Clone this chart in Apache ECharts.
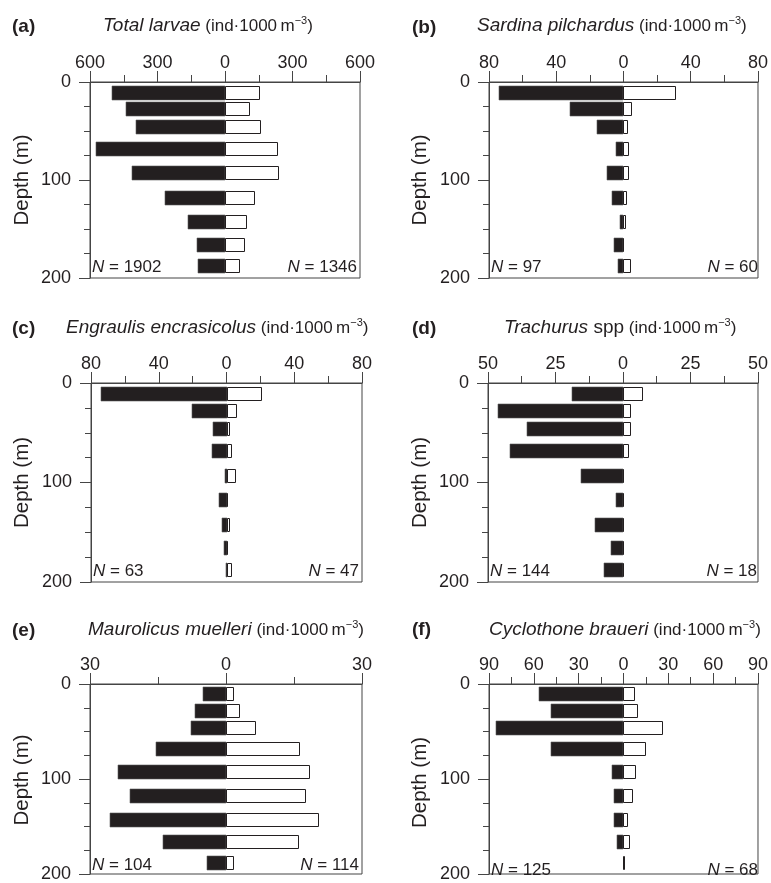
<!DOCTYPE html>
<html><head><meta charset="utf-8">
<script src="https://cdn.jsdelivr.net/npm/echarts@6/dist/echarts.min.js"></script>
<style>html,body{margin:0;padding:0;background:#fff}#c{width:771px;height:883px}</style>
</head><body><div id="c"></div>
<script>
// ---- data ----
const depths = [11, 28, 46, 68, 93, 118, 143, 166, 188];
const totalBlack = [501, 439, 396, 573, 414, 266, 165, 126, 122];
const totalWhite = [150, 106, 155, 229, 235, 129, 94, 86, 61];
const sardinaBlack = [74.1, 32, 15.7, 4.5, 9.6, 7.1, 1.8, 5.7, 3.3];
const sardinaWhite = [30.6, 4.5, 2.2, 2.9, 2.9, 1.2, 0.8, 0, 3.9];
const engraulisBlack = [74.1, 20.4, 7.9, 8.3, 1.0, 4.3, 2.4, 1.6, 0.3];
const engraulisWhite = [20.2, 5.9, 1.4, 2.8, 5.1, 0.3, 1.2, 0.3, 2.4];
const trachurusBlack = [19.0, 46.4, 35.6, 41.8, 15.7, 2.6, 10.3, 4.3, 6.9];
const trachurusWhite = [6.9, 2.7, 2.7, 1.7, 0, 0, 0, 0, 0];
const maurolicusBlack = [5.0, 6.8, 7.8, 15.4, 23.9, 21.2, 25.6, 13.8, 4.3];
const maurolicusWhite = [1.5, 2.8, 6.4, 16.1, 18.2, 17.4, 20.2, 15.9, 1.5];
const cyclothoneBlack = [56.8, 48.6, 85.2, 48.6, 7.9, 6.2, 6.2, 4.4, 0];
const cyclothoneWhite = [7.3, 9.2, 26.0, 14.1, 7.9, 5.9, 2.4, 3.5, 0.3];

const panelLetters = ['(a)', '(b)', '(c)', '(d)', '(e)', '(f)'];
const speciesNames = ['Total larvae', 'Sardina pilchardus', 'Engraulis encrasicolus', 'Trachurus', 'Maurolicus muelleri', 'Cyclothone braueri'];
const speciesSuffix = ['', '', '', ' spp', '', ''];
const axisMax = [600, 80, 80, 50, 30, 90];
const axisStep = [300, 40, 40, 25, 30, 30];
const depthMax = 200;
const depthStep = 100;
const nBlack = [1902, 97, 63, 144, 104, 125];
const nWhite = [1346, 60, 47, 18, 114, 68];

const blackSets = [totalBlack, sardinaBlack, engraulisBlack, trachurusBlack, maurolicusBlack, cyclothoneBlack];
const whiteSets = [totalWhite, sardinaWhite, engraulisWhite, trachurusWhite, maurolicusWhite, cyclothoneWhite];

// ---- layout ----
const grids = [
  {l: 90, t: 82, w: 270, h: 196},
  {l: 489, t: 82, w: 272, h: 196},
  {l: 91, t: 383, w: 271, h: 199},
  {l: 488, t: 383, w: 272, h: 199},
  {l: 90, t: 684, w: 272, h: 192},
  {l: 489, t: 684, w: 272, h: 197}
];
const titleX = [103, 477, 66, 504, 88, 489];
const titleY = [25, 25, 327, 327, 629, 629];
const letterX = [12, 412, 12, 412, 12, 412];
const letterY = [27, 28, 329, 329, 631, 630];
const depthLabelX = [22, 420, 22, 420, 22, 420];

const INK = '#231f20';
const LINE = '#454545';
const FONT = '"Liberation Sans", Arial, Helvetica, sans-serif';

const chart = echarts.init(document.getElementById('c'), null, {renderer: 'canvas'});

const option = {
  backgroundColor: '#fff',
  animation: false,
  grid: [], xAxis: [], yAxis: [], series: [], graphic: []
};

for (let i = 0; i < 6; i++) {
  const g = grids[i];
  option.grid.push({
    left: g.l, top: g.t, width: g.w, height: g.h,
    show: true, borderColor: LINE, borderWidth: 1, backgroundColor: 'transparent'
  });
  option.xAxis.push({
    gridIndex: i, type: 'value', position: 'top',
    min: -axisMax[i], max: axisMax[i], interval: axisStep[i],
    axisLine: {show: true, onZero: false, lineStyle: {color: LINE, width: 1}},
    axisTick: {show: true, length: 11, lineStyle: {color: LINE}},
    minorTick: {show: true, splitNumber: 2, length: 7, lineStyle: {color: LINE}},
    splitLine: {show: false},
    axisLabel: {
      margin: 10, color: INK, fontSize: 18, fontFamily: FONT,
      formatter: v => String(Math.abs(v))
    }
  });
  option.yAxis.push({
    gridIndex: i, type: 'value', inverse: true,
    min: 0, max: depthMax, interval: depthStep,
    axisLine: {show: true, onZero: false, lineStyle: {color: LINE, width: 1}},
    axisTick: {show: true, length: 11, lineStyle: {color: LINE}},
    minorTick: {show: true, splitNumber: 4, length: 6, lineStyle: {color: LINE}},
    splitLine: {show: false},
    axisLabel: {margin: 19, color: INK, fontSize: 18, fontFamily: FONT}
  });
  const rows = depths.map((d, k) => [d, blackSets[i][k], whiteSets[i][k]]);
  option.series.push({
    type: 'custom', xAxisIndex: i, yAxisIndex: i,
    data: rows,
    encode: {x: [1, 2], y: 0},
    renderItem: function (params, api) {
      const depth = api.value(0);
      const left = api.value(1);
      const right = api.value(2);
      const p0 = api.coord([0, depth]);
      const pl = api.coord([-left, depth]);
      const pr = api.coord([right, depth]);
      const h = 14;
      const y = Math.round(p0[1] - h / 2);
      const x0 = Math.round(p0[0]);
      const xl = Math.round(pl[0]);
      const xr = Math.round(pr[0]);
      const children = [];
      if (x0 - xl > 0) {
        children.push({
          type: 'rect',
          shape: {x: xl, y: y, width: x0 - xl, height: h},
          style: {fill: INK, stroke: '#5a5a5a', lineWidth: 0.6}
        });
      }
      children.push({
        type: 'rect',
        shape: {x: x0 + 0.5, y: y + 0.5, width: Math.max(xr - x0, 0), height: h - 1},
        style: {fill: '#fff', stroke: INK, lineWidth: 1}
      });
      return {type: 'group', children: children};
    }
  });

  // panel letter
  option.graphic.push({
    type: 'text', x: letterX[i], y: letterY[i],
    style: {text: panelLetters[i], fill: INK, font: 'bold 19px ' + FONT, verticalAlign: 'middle', align: 'left'}
  });
  // title
  const suffix = speciesSuffix[i] ? '{r|' + speciesSuffix[i] + '}' : '';
  option.graphic.push({
    type: 'text', x: titleX[i], y: titleY[i],
    style: {
      text: '{i|' + speciesNames[i] + '}' + suffix + '{u| (ind\u00b71000\u2009m}{s|\u22123}{u|)}',
      fill: INK, verticalAlign: 'middle', align: 'left',
      rich: {
        i: {fontStyle: 'italic', fontSize: 19, fontFamily: FONT, fill: INK, lineHeight: 20, verticalAlign: 'bottom'},
        r: {fontSize: 19, fontFamily: FONT, fill: INK, lineHeight: 20, verticalAlign: 'bottom'},
        u: {fontSize: 17, fontFamily: FONT, fill: INK, lineHeight: 19, verticalAlign: 'bottom'},
        s: {fontSize: 11, fontFamily: FONT, fill: INK, lineHeight: 14, verticalAlign: 'top'}
      },
      font: '19px ' + FONT
    }
  });
  // depth axis title
  option.graphic.push({
    type: 'text', x: depthLabelX[i], y: g.t + g.h / 2, rotation: Math.PI / 2,
    style: {text: 'Depth (m)', fill: INK, font: '20.5px ' + FONT, align: 'center', verticalAlign: 'middle'}
  });
  // N labels
  option.graphic.push({
    type: 'text', x: g.l + 2, y: g.t + g.h - 11,
    style: {
      text: '{n|N} = ' + nBlack[i], fill: INK, font: '17px ' + FONT, align: 'left', verticalAlign: 'middle',
      rich: {n: {fontStyle: 'italic', fontSize: 17, fontFamily: FONT, fill: INK}}
    }
  });
  option.graphic.push({
    type: 'text', x: g.l + g.w - 3, y: g.t + g.h - 11,
    style: {
      text: '{n|N} = ' + nWhite[i], fill: INK, font: '17px ' + FONT, align: 'right', verticalAlign: 'middle',
      rich: {n: {fontStyle: 'italic', fontSize: 17, fontFamily: FONT, fill: INK}}
    }
  });
}

chart.setOption(option);
</script>
</body></html>
